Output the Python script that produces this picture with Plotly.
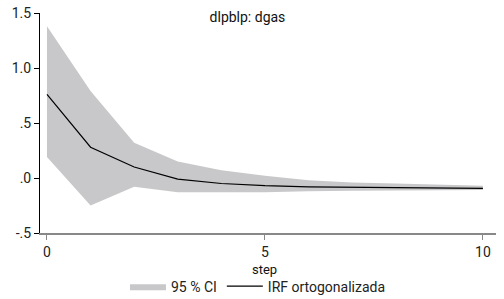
import plotly.graph_objects as go

steps = list(range(11))
irf = [0.76, 0.28, 0.10, -0.01, -0.05, -0.07, -0.08, -0.085, -0.09, -0.09, -0.095]
upper = [1.38, 0.79, 0.32, 0.15, 0.07, 0.02, -0.02, -0.04, -0.05, -0.06, -0.07]
lower = [0.19, -0.25, -0.08, -0.13, -0.13, -0.13, -0.12, -0.115, -0.11, -0.11, -0.11]
y_ticks = [-0.5, 0.0, 0.5, 1.0, 1.5]
y_labels = ["-.5", ".0", ".5", "1.0", "1.5"]
x_ticks = [0, 5, 10]

fig = go.Figure()
fig.add_trace(go.Scatter(
    x=steps + steps[::-1], y=upper + lower[::-1],
    fill="toself", fillcolor="#c8c8ca", line=dict(width=0, color="#c8c8ca"),
    mode="lines", name="95 % CI", hoverinfo="skip"))
fig.add_trace(go.Scatter(
    x=steps, y=irf, mode="lines", line=dict(color="black", width=1.2),
    name="IRF ortogonalizada"))

fig.update_layout(
    width=504, height=299,
    margin=dict(l=40, r=8, t=13, b=66),
    paper_bgcolor="white", plot_bgcolor="white",
    font=dict(family="Roboto", size=14, color="#222"),
    title=dict(text="dlpblp: dgas", x=0.491, xanchor="center", y=0.943, yanchor="middle",
               font=dict(size=14, color="#111")),
    showlegend=True,
    legend=dict(orientation="h", x=0.478, xanchor="center", xref="paper",
                yref="container", y=0.095, yanchor="top",
                font=dict(size=14, color="#222"), itemwidth=36, tracegroupgap=0),
    annotations=[dict(text="step", xref="paper", yref="paper", x=0.493, y=-0.168,
                      xanchor="center", yanchor="middle", showarrow=False,
                      font=dict(size=13, color="#111"))],
)
fig.update_xaxes(range=[-0.16, 10.3], tickvals=x_ticks, ticks="outside", ticklen=5,
                 tickcolor="#888", showline=True, linecolor="#888", linewidth=2,
                 showgrid=False, zeroline=False, automargin=False)
fig.update_yaxes(range=[-0.5, 1.5], tickvals=y_ticks, ticktext=y_labels, ticks="outside",
                 ticklen=5, tickcolor="black", showline=True, linecolor="black", linewidth=1,
                 showgrid=False, zeroline=False, automargin=False)
fig.write_html("out.html")
